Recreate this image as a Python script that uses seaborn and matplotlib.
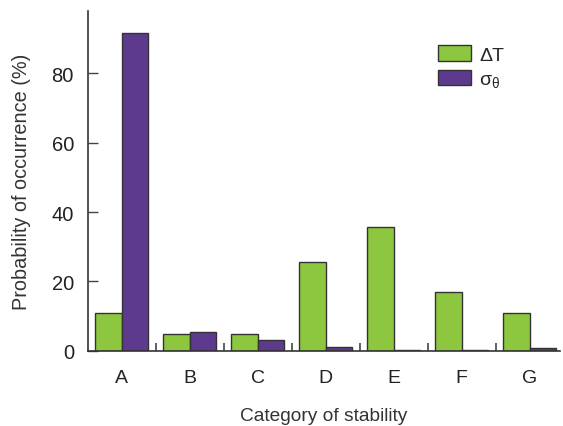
import matplotlib
matplotlib.use("Agg")
import matplotlib.pyplot as plt
import seaborn as sns
import pandas as pd

categories = ["A", "B", "C", "D", "E", "F", "G"]
delta_t = [11.0, 4.8, 5.0, 25.6, 35.8, 17.0, 11.0]
sigma_theta = [91.6, 5.3, 3.0, 1.1, 0.3, 0.3, 0.9]
series_labels = ["ΔT", "$\\sigma_\\theta$"]
y_ticks = [0, 20, 40, 60, 80]

sns.set_style("ticks")
plt.rcParams["font.family"] = ["Liberation Sans", "DejaVu Sans"]
plt.rcParams["mathtext.fontset"] = "custom"
plt.rcParams["mathtext.rm"] = "Liberation Sans"
plt.rcParams["mathtext.it"] = "Liberation Sans"

df = pd.DataFrame({
    "cat": categories * 2,
    "val": delta_t + sigma_theta,
    "series": [series_labels[0]] * len(categories) + [series_labels[1]] * len(categories),
})

fig = plt.figure(figsize=(5.63, 4.27), dpi=100)
ax = fig.add_axes([0.156, 0.176, 0.839, 0.796])
sns.barplot(data=df, x="cat", y="val", hue="series", ax=ax,
            palette=["#8DC63F", "#5E3A8E"], width=0.78,
            edgecolor="#333333", linewidth=1.0, saturation=1)

ax.set_xlim(-0.5, 6.45)
ax.set_ylim(0, 98)
ax.set_yticks(y_ticks)
ax.set_xticks(range(len(categories)))
ax.set_xticklabels(categories)
ax.set_xticks([i + 0.5 for i in range(len(categories) - 1)], minor=True)
ax.tick_params(axis="x", which="major", length=0, pad=13, labelsize=14, colors="#222222")
ax.tick_params(axis="x", which="minor", direction="in", length=6, width=1.2, color="#444444")
ax.tick_params(axis="y", direction="in", length=7, width=1.0, labelsize=14.5, pad=10, color="#444444", labelcolor="#222222")
for s in ["top", "right"]:
    ax.spines[s].set_visible(False)
for s in ["left", "bottom"]:
    ax.spines[s].set_color("#333333")
    ax.spines[s].set_linewidth(1.2)

ax.set_xlabel("Category of stability", fontsize=13.8, labelpad=15, color="#333333")
ax.set_ylabel("Probability of occurrence (%)", fontsize=14.3, labelpad=15, color="#333333")

ax.legend(loc="upper left", bbox_to_anchor=(0.705, 0.95), frameon=False, fontsize=14,
          handlelength=1.7, handleheight=0.85, handletextpad=0.4, labelspacing=0.3, title=None)

fig.savefig("out.png", dpi=100)
